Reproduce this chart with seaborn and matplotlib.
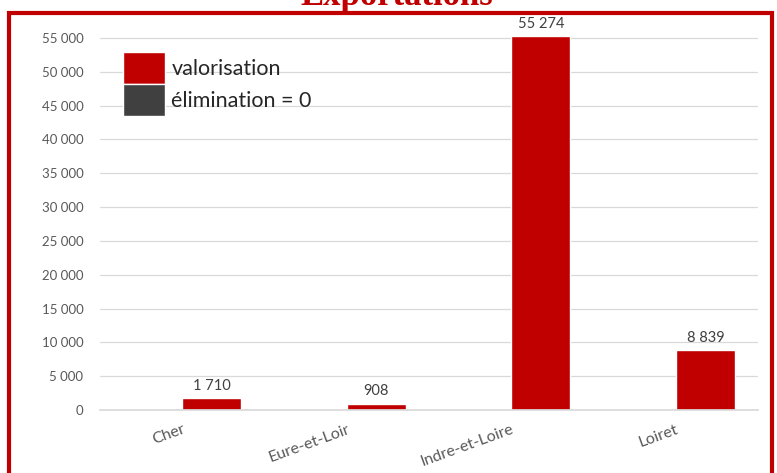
import pandas as pd
import seaborn as sns
import matplotlib.pyplot as plt
from matplotlib.patches import Rectangle

departements = ['Cher', 'Eure-et-Loir', 'Indre-et-Loire', 'Loiret']
valorisation = [1710, 908, 55274, 8839]
elimination = [0, 0, 0, 0]
series = ['valorisation', 'élimination = 0']
couleurs = {'valorisation': '#C00000', 'élimination = 0': '#404040'}

df = pd.DataFrame({
    'departement': departements * 2,
    'tonnage': valorisation + elimination,
    'serie': [series[0]] * 4 + [series[1]] * 4,
})

sns.set_theme(style='white')
plt.rcParams['font.family'] = ['Lato', 'DejaVu Sans']

fig = plt.figure(figsize=(7.77, 4.73), dpi=100)
ax = fig.add_axes([100 / 777, 63 / 473, 658 / 777, 378.8 / 473])

# elimination a gauche (valeurs nulles), valorisation a droite comme dans Excel
sns.barplot(data=df, x='departement', y='tonnage', hue='serie', hue_order=series[::-1],
            palette=couleurs, saturation=1, width=0.72, ax=ax, legend=True)

ax.set_ylim(0, 56000)
ax.set_yticks(range(0, 55001, 5000))
ax.set_yticklabels([f'{v:,}'.replace(',', ' ') for v in range(0, 55001, 5000)])
ax.yaxis.grid(True, color='#d9d9d9', lw=0.9)
ax.set_axisbelow(True)
for s in ['top', 'right', 'left']:
    ax.spines[s].set_visible(False)
ax.spines['bottom'].set_color('#d9d9d9')
ax.tick_params(axis='both', length=0, colors='#595959')
ax.tick_params(axis='y', labelsize=9.5, pad=12)
ax.tick_params(axis='x', labelsize=11.5, pad=9)
for lab in ax.get_xticklabels():
    lab.set_rotation(20)
    lab.set_ha('right')
    lab.set_rotation_mode('anchor')
ax.set_xlabel('')
ax.set_ylabel('')

# etiquettes des barres (serie valorisation seulement)
cont = ax.containers[1]
ax.bar_label(cont, labels=[f'{v:,}'.replace(',', ' ') for v in valorisation],
             padding=4, fontsize=10.5, color='#404040', clip_on=False)

handles, labels = ax.get_legend_handles_labels()
order = [labels.index(s) for s in series]
leg = ax.legend([handles[i] for i in order], [labels[i] for i in order],
                loc='upper left', bbox_to_anchor=(0.035, 0.945), frameon=False,
                fontsize=15.5, handlelength=1.95, handleheight=1.9, handletextpad=0.3,
                labelspacing=0.0, borderpad=0, borderaxespad=0)
for t in leg.get_texts():
    t.set_color('#262626')

# cadre rouge et titre coupe
fig.patches.append(Rectangle((9 / 777, -0.1), 763 / 777, 1.1 - 13 / 473,
                             transform=fig.transFigure, fill=False,
                             edgecolor='#C00000', lw=3, clip_on=False))
fig.text(397 / 777, 1 - 5 / 473, 'Exportations', ha='center', va='baseline',
         fontsize=25, fontweight='bold', color='#C00000', family='Liberation Serif')

fig.savefig('out.png', dpi=100)
